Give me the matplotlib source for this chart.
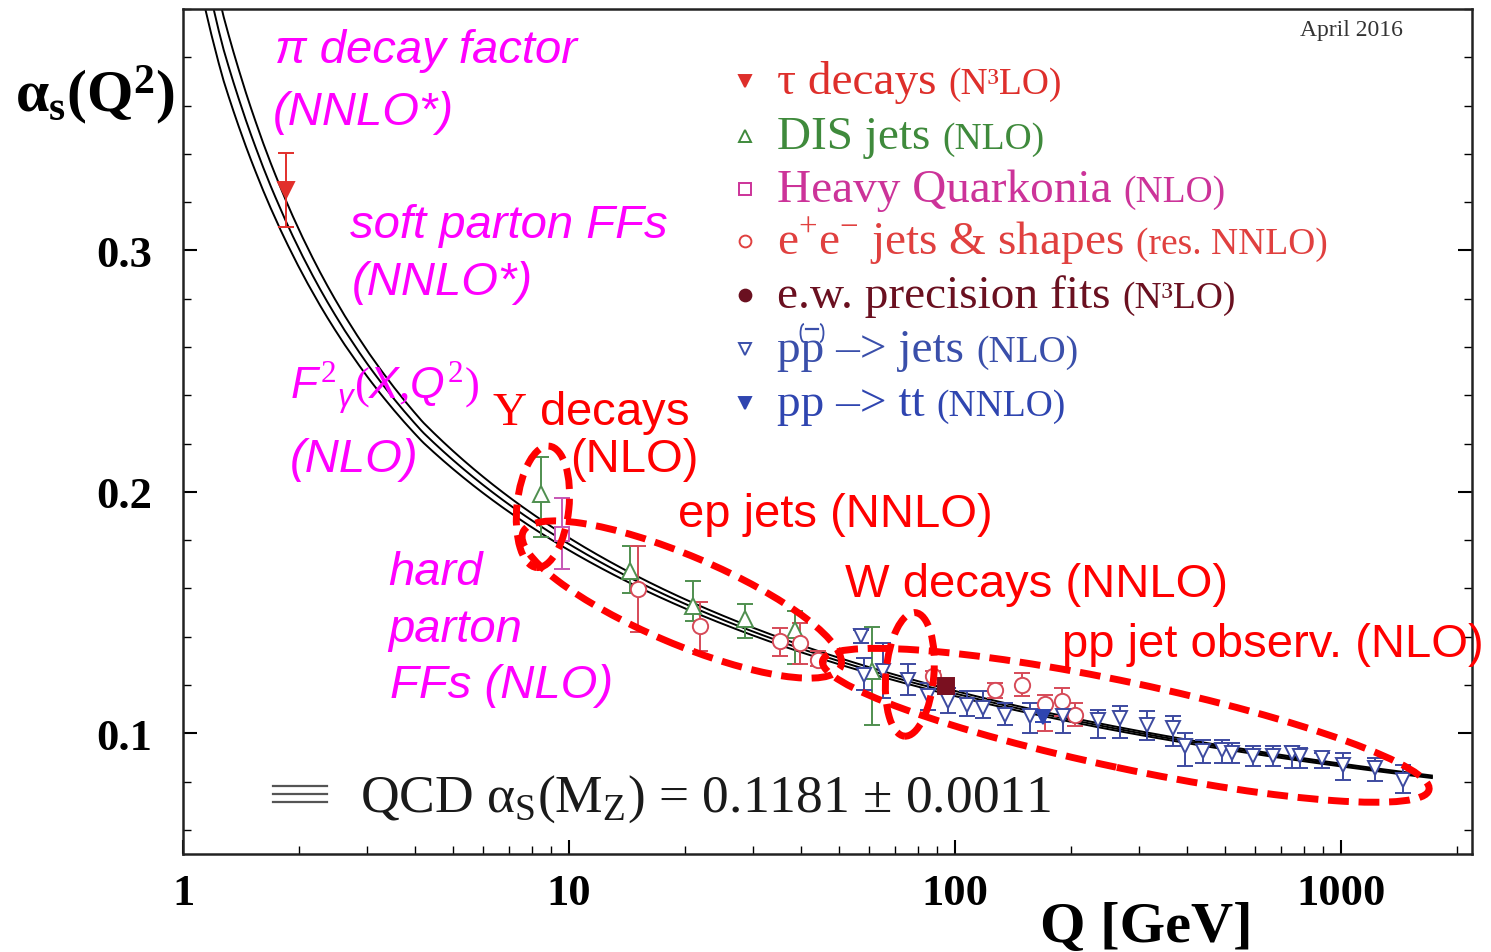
import numpy as np
import matplotlib.pyplot as plt
from matplotlib import transforms
from matplotlib.lines import Line2D
from matplotlib.patches import Ellipse, Arc
from matplotlib.ticker import MultipleLocator, NullFormatter

plt.rcParams['mathtext.fontset'] = 'custom'
plt.rcParams['mathtext.rm'] = 'Liberation Serif'
plt.rcParams['mathtext.it'] = 'Liberation Sans:italic'
plt.rcParams['mathtext.bf'] = 'Liberation Serif:bold'

W, H = 1491, 953
SERIF = ['Liberation Serif', 'DejaVu Serif']
SANS = ['Liberation Sans', 'DejaVu Sans']

# world average used for the QCD band
ALPHA_MZ = 0.1181
ALPHA_ERR = 0.0011
MZ = 91.1876

# --- measurements: scale Q [GeV], alpha_s, lower and upper end of the error bar ---
tau_q = [1.85]
tau_a = [0.3252]
tau_lo = [0.3095]
tau_hi = [0.3405]

dis_q = [8.46, 14.4, 20.9, 28.6, 38.5, 61.0]
dis_a = [0.1992, 0.1674, 0.1529, 0.1475, 0.1426, 0.1260]
dis_lo = [0.1814, 0.1579, 0.1467, 0.1393, 0.1289, 0.1033]
dis_hi = [0.2145, 0.1777, 0.1632, 0.1537, 0.1508, 0.1442]

hq_q = [9.59]
hq_a = [0.1826]
hq_lo = [0.1682]
hq_hi = [0.1975]

ee_q = [15.1, 21.9, 35.2, 39.7, 44.2, 87.7, 127, 149, 171, 189, 205]
ee_a = [0.1599, 0.1446, 0.1384, 0.1372, 0.1302, 0.1236, 0.1178, 0.1198, 0.1120, 0.1132, 0.1074]
ee_lo = [0.1421, 0.1339, 0.1322, 0.1289, 0.1277, 0.1207, 0.1145, 0.1153, 0.1008, 0.1070, 0.1029]
ee_hi = [0.1777, 0.1545, 0.1438, 0.1455, 0.1339, 0.1260, 0.1207, 0.1248, 0.1157, 0.1186, 0.1124]

ew_q = [95.0]
ew_a = [0.1194]
ew_lo = [0.1180]
ew_hi = [0.1208]

ppj_q = [57, 58, 65.1, 75.5, 85.1, 95.9, 107.4, 118.2, 134.8, 156.4, 190.5, 234.6,
         267.5, 314.3, 367, 394, 439, 492, 522, 592, 667, 747, 783, 893, 1012, 1225, 1448]
ppj_a = [0.1401, 0.1240, 0.1260, 0.1219, 0.1153, 0.1132, 0.1116, 0.1103, 0.1074, 0.1070,
         0.1070, 0.1054, 0.1062, 0.1033, 0.1021, 0.0946, 0.0926, 0.0930, 0.0917, 0.0905,
         0.0905, 0.0917, 0.0905, 0.0897, 0.0868, 0.0855, 0.0806]
ppj_lo = [0.1372, 0.1178, 0.1145, 0.1157, 0.1095, 0.1083, 0.1070, 0.1062, 0.1033, 0.1000,
          0.1000, 0.0979, 0.0979, 0.0971, 0.0946, 0.0864, 0.0876, 0.0876, 0.0876, 0.0864,
          0.0864, 0.0855, 0.0855, 0.0855, 0.0806, 0.0802, 0.0752]
ppj_hi = [0.1426, 0.1310, 0.1372, 0.1289, 0.1207, 0.1186, 0.1174, 0.1174, 0.1124, 0.1124,
          0.1124, 0.1095, 0.1112, 0.1091, 0.1070, 0.1000, 0.0971, 0.0971, 0.0960, 0.0946,
          0.0946, 0.0946, 0.0938, 0.0917, 0.0917, 0.0897, 0.0868]

tt_q = [169]
tt_a = [0.1066]
tt_lo = [0.1045]
tt_hi = [0.1095]

# legend entries
leg_main = ['τ decays', 'DIS jets', 'Heavy Quarkonia', r'e$^{+}$e$^{-}$ jets & shapes',
            'e.w. precision fits', 'pp –> jets', 'pp –> tt']
leg_sub = ['(N³LO)', '(NLO)', '(NLO)', '(res. NNLO)', '(N³LO)', '(NLO)', '(NNLO)']
leg_marker = ['v', '^', 's', 'o', 'o', 'v', 'v']
leg_filled = [True, False, False, False, True, False, True]
leg_color = ['#de2f2b', '#3f8a3c', '#cc3399', '#e0403f', '#6a1020', '#3a4faa', '#2f45b0']

TAU_C = '#e22f2b'
DIS_C = '#4f8f4f'
HQ_C = '#c656b4'
EE_C = '#d64a58'
EW_C = '#7a1020'
PP_C = '#3d4aa0'
TT_C = '#2f45b0'


def beta(a, t):
    # three-loop beta function for a = alpha_s / pi, t = ln(mu^2)
    mu = np.exp(t / 2)
    nf = np.where(mu > 4.18, 5, np.where(mu > 1.27, 4, 3))
    b0 = (33 - 2 * nf) / 12
    b1 = (153 - 19 * nf) / 24
    b2 = (2857 - 5033 / 9 * nf + 325 / 27 * nf ** 2) / 128
    return -(b0 * a ** 2 + b1 * a ** 3 + b2 * a ** 4)


def alpha_s(q, a_mz, steps=400):
    t0 = 2 * np.log(MZ)
    h = (2 * np.log(q) - t0) / steps
    a = np.full_like(q, a_mz / np.pi)
    t = np.full_like(q, t0)
    for _ in range(steps):
        k1 = beta(a, t)
        k2 = beta(a + h / 2 * k1, t + h / 2)
        k3 = beta(a + h / 2 * k2, t + h / 2)
        k4 = beta(a + h * k3, t + h)
        a = a + h / 6 * (k1 + 2 * k2 + 2 * k3 + k4)
        t = t + h
    return a * np.pi


fig = plt.figure(figsize=(W / 100, H / 100), dpi=100)
ax = fig.add_axes([183 / W, 1 - 855 / H, 1289 / W, 845 / H])
ax.set_xscale('log')
ax.set_xlim(1, 2185)
ax.set_ylim(0.05, 0.4)

# QCD prediction: central value and +-1 sigma
q_line = np.logspace(np.log10(1.1), np.log10(1720), 500)
for a0 in (ALPHA_MZ - ALPHA_ERR, ALPHA_MZ, ALPHA_MZ + ALPHA_ERR):
    ax.plot(q_line, alpha_s(q_line, a0), color='black', lw=1.4, zorder=2)


def points(q, a, lo, hi, marker, color, filled=False, ms=10):
    a = np.asarray(a)
    yerr = [a - np.asarray(lo), np.asarray(hi) - a]
    ax.errorbar(q, a, yerr=yerr, fmt=marker, ms=ms,
                mfc=color if filled else 'white', mec=color, mew=1.4,
                ecolor=color, elinewidth=1.4, capsize=6, capthick=1.4, zorder=4)


points(dis_q, dis_a, dis_lo, dis_hi, '^', DIS_C, ms=11)
points(hq_q, hq_a, hq_lo, hq_hi, 's', HQ_C, ms=10)
points(ee_q, ee_a, ee_lo, ee_hi, 'o', EE_C, ms=11)
points(ppj_q, ppj_a, ppj_lo, ppj_hi, 'v', PP_C, ms=10)
points(tt_q, tt_a, tt_lo, tt_hi, 'v', TT_C, filled=True, ms=10)
points(tau_q, tau_a, tau_lo, tau_hi, 'v', TAU_C, filled=True, ms=12)
points(ew_q, ew_a, ew_lo, ew_hi, 's', EW_C, filled=True, ms=12)

# axes styling
for s in ax.spines.values():
    s.set_linewidth(1.8)
    s.set_color('#222222')
ax.set_xticks([1, 10, 100, 1000], ['1', '10', '100', '1000'],
              fontsize=32, fontweight='bold', fontfamily=SERIF)
ax.set_yticks([0.1, 0.2, 0.3], ['0.1', '0.2', '0.3'],
              fontsize=32, fontweight='bold', fontfamily=SERIF)
ax.xaxis.set_minor_formatter(NullFormatter())
ax.yaxis.set_minor_locator(MultipleLocator(0.02))
ax.tick_params(which='both', direction='in', top=False, right=True)
ax.tick_params(which='major', length=10, width=1.5)
ax.tick_params(which='minor', length=6, width=1.0)
ax.tick_params(axis='x', pad=14)
ax.tick_params(axis='y', pad=22)

renderer = fig.canvas.get_renderer()


def fxy(px, py):
    return px / W, 1 - py / H


def after(t, text, gap=0, **kw):
    bb = t.get_window_extent(renderer)
    x, y = t.get_position()
    return fig.text((bb.x1 + gap) / W, y, text, **kw)


# axis titles
fig.text(*fxy(15, 112), r'$\mathbf{\alpha_{s}(Q^{2})}$', fontsize=43,
         va='baseline', fontfamily=SERIF)
fig.text(*fxy(1040, 942), 'Q [GeV]', fontsize=42, fontweight='bold',
         fontfamily=SERIF, va='baseline')
fig.text(*fxy(1300, 36), 'April 2016', fontsize=17, fontfamily=SERIF,
         color='#333333', va='baseline')

# legend
mark_y = [82, 137, 190, 242, 296, 350, 404]
for i in range(len(leg_main)):
    c = leg_color[i]
    mx, my = fxy(745, mark_y[i])
    fig.add_artist(Line2D([mx], [my], marker=leg_marker[i], ms=8.5, mew=1.4,
                          mec=c, mfc=c if leg_filled[i] else 'white',
                          transform=fig.transFigure))
    t = fig.text(*fxy(777, mark_y[i] + 12), leg_main[i], fontsize=34, color=c,
                 fontfamily=SERIF, va='baseline')
    after(t, leg_sub[i], gap=12, fontsize=27, color=c, fontfamily=SERIF, va='baseline')

# bracketed bar over the second p of the p(pbar) entry, drawn in pixels
cx, top = 812, 330
inch = fig.dpi_scale_trans
fig.add_artist(Line2D([(cx - 6) / 100, (cx + 6) / 100], [(H - top) / 100] * 2,
                      color=leg_color[5], lw=1.6, transform=inch))
for dx, th1, th2 in ((-8, 90, 270), (8, -90, 90)):
    fig.add_artist(Arc(((cx + dx) / 100, (H - top - 4) / 100), 0.07, 0.18,
                       theta1=th1, theta2=th2, color=leg_color[5], lw=1.3,
                       transform=inch))

# QCD band key
for py in (787, 795, 803):
    x0, y0 = fxy(273, py)
    x1, _ = fxy(327, py)
    fig.add_artist(Line2D([x0, x1], [y0, y0], color='#555555', lw=1.6,
                          transform=fig.transFigure))
fig.text(*fxy(360, 812),
         r'QCD $\mathrm{\alpha}_{\mathrm{S}}(\mathrm{M}_{\mathrm{Z}})$ = '
         f'{ALPHA_MZ:.4f} ± {ALPHA_ERR:.4f}',
         fontsize=38.5, fontfamily=SERIF, color='#1a1a1a', va='baseline')

# method annotations
MAG = '#ff00ff'
RED = '#ff0000'
mag_text = [('π decay factor', 275, 63), ('(NNLO*)', 273, 125),
            ('soft parton FFs', 350, 238), ('(NNLO*)', 352, 295),
            ('(NLO)', 290, 472), ('hard', 388, 585), ('parton', 388, 642),
            ('FFs (NLO)', 390, 698)]
for s, px, py in mag_text:
    fig.text(*fxy(px, py), s, fontsize=34, style='italic', color=MAG,
             fontfamily=SANS, va='baseline')
fig.text(*fxy(290, 400), r'$F^{2}{}_{\gamma}(X{,}Q^{2})$', fontsize=32, color=MAG,
         fontfamily=SANS, va='baseline')

red_text = [(r'$\mathrm{\Upsilon}$ decays', 492, 425), ('(NLO)', 570, 472),
            ('ep jets (NNLO)', 678, 527), ('W decays (NNLO)', 845, 597),
            ('pp jet observ. (NLO)', 1062, 657)]
for s, px, py in red_text:
    fig.text(*fxy(px, py), s, fontsize=34, color=RED, fontfamily=SANS, va='baseline')

# dashed outlines around groups of measurements (sizes in pixels)
ell_q = [8.56, 19.6, 76.4, 277]
ell_a = [0.1938, 0.1554, 0.1244, 0.1033]
ell_w = [52, 345, 48, 620]
ell_h = [122, 88, 124, 86]
ell_ang = [-6, -23, -5, -12]
for q, a, w, h, ang in zip(ell_q, ell_a, ell_w, ell_h, ell_ang):
    tr = fig.dpi_scale_trans + transforms.ScaledTranslation(q, a, ax.transData)
    ax.add_patch(Ellipse((0, 0), w / 100, h / 100, angle=ang, transform=tr,
                         fill=False, edgecolor=RED, lw=5, linestyle=(0, (3, 1.4)),
                         zorder=6, clip_on=False))

fig.savefig('out.png', dpi=100)
